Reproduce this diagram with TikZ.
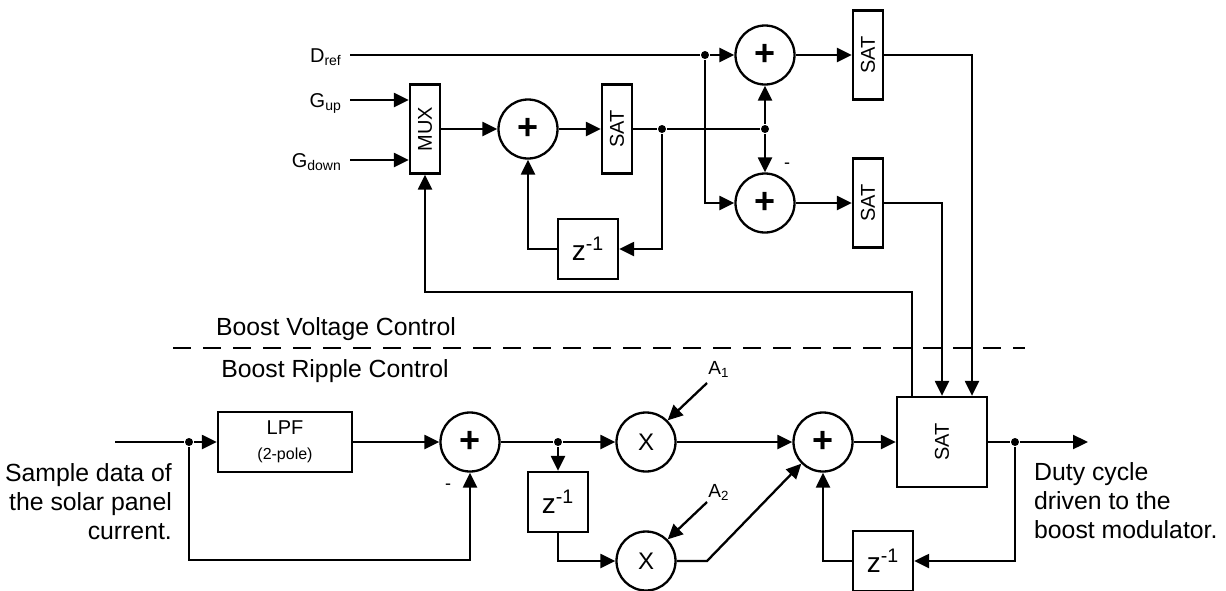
\documentclass[tikz,border=0pt]{standalone}
\usepackage{fontspec}
\usepackage{graphicx}
\setmainfont{Liberation Sans}
\usetikzlibrary{arrows.meta,calc}
\begin{document}
\begin{tikzpicture}[x=0.5pt,y=-0.5pt,
  line width=1.15pt,
  arr/.style={-{Triangle[length=7.5pt,width=7pt]}},
  sumnode/.style={circle,draw,minimum size=29.5pt,inner sep=0pt,font=\fontsize{18}{18}\selectfont\bfseries},
  mulnode/.style={circle,draw,minimum size=29.5pt,inner sep=0pt,font=\fontsize{12}{12}\selectfont},
  tallbox/.style={rectangle,draw,minimum width=15pt,minimum height=44.5pt,inner sep=0pt,font=\fontsize{10}{10}\selectfont},
  bigbox/.style={rectangle,draw,minimum width=45pt,minimum height=45pt,inner sep=0pt,font=\fontsize{10}{10}\selectfont},
  delaybox/.style={rectangle,draw,minimum width=30pt,minimum height=30pt,inner sep=0pt,font=\fontsize{14}{14}\selectfont},
  lpfbox/.style={rectangle,draw,minimum width=67pt,minimum height=30pt,inner sep=0pt,align=center,font=\fontsize{10}{12.5}\selectfont},
  dot/.style={circle,fill,inner sep=0pt,minimum size=4pt},
  inlbl/.style={font=\fontsize{10}{10}\selectfont,inner sep=0pt},
  alabel/.style={font=\fontsize{9.5}{9.5}\selectfont,inner sep=0pt},
  minus/.style={font=\fontsize{9}{9}\selectfont,inner sep=0pt},
  bigtext/.style={font=\fontsize{12.4}{14.5}\selectfont,inner sep=0pt}
]
\useasboundingbox (0,0) rectangle (1226,590);

% ---------- top part ----------
\node[inlbl,anchor=base east] (dreflbl) at (343,62) {D\textsubscript{ref}};
\node[inlbl,anchor=base east] (guplbl) at (343,107) {G\textsubscript{up}};
\node[inlbl,anchor=base east] (gdownlbl) at (343,167) {G\textsubscript{down}};
\coordinate (drefin) at (350,55);
\coordinate (gupin) at (350,100);
\coordinate (gdownin) at (350,160);

\node[tallbox] (mux) at (425,129) {\rotatebox{90}{MUX}};
\node[sumnode] (sum1) at (528,129) {+};
\node[tallbox] (sat1) at (617,129) {\rotatebox{90}{SAT}};
\node[dot] (jA) at (662,129) {};
\node[delaybox] (z1) at (588,249) {z\textsuperscript{-1}};

\node[dot] (jD) at (705,55) {};
\node[sumnode] (sum2) at (765,55) {+};
\node[dot] (jC) at (765,129) {};
\node[sumnode] (sum3) at (765,203) {+};
\node[minus] (m1) at (787,166) {-};
\node[tallbox] (sat2) at (868,55) {\rotatebox{90}{SAT}};
\node[tallbox] (sat3) at (868,203) {\rotatebox{90}{SAT}};

% ---------- bottom part ----------
\coordinate (inI) at (115,442);
\node[dot] (j1) at (189,442) {};
\node[lpfbox] (lpf) at (285,442) {LPF\\{\fontsize{8}{12.5}\selectfont (2-pole)}};
\node[sumnode] (sum4) at (470,442) {+};
\node[minus] (m2) at (448,487) {-};
\node[dot] (j2) at (558,442) {};
\node[mulnode] (x1) at (646,442) {X};
\node[delaybox] (z2) at (558,502) {z\textsuperscript{-1}};
\node[mulnode] (x2) at (646,561) {X};
\node[alabel] (a1) at (719,369) {A\textsubscript{1}};
\node[alabel] (a2) at (719,492) {A\textsubscript{2}};
\coordinate (a1s) at (707,383);
\coordinate (a2s) at (707,502);
\coordinate (k2) at (707,561);
\node[sumnode] (sum5) at (823,442) {+};
\node[bigbox] (bigsat) at (942,442) {\rotatebox{90}{SAT}};
\node[dot] (j3) at (1015,442) {};
\coordinate (outD) at (1088,442);
\node[delaybox] (z3) at (883,561) {z\textsuperscript{-1}};

\coordinate (bsin2) at ([xshift=15pt]bigsat.north);
\coordinate (bsfb) at ([xshift=-15pt]bigsat.north);

% ---------- connectors top ----------
\draw[arr] (gupin) -- (gupin -| mux.west);
\draw[arr] (gdownin) -- (gdownin -| mux.west);
\draw[arr] (mux.east) -- (sum1.west);
\draw[arr] (sum1.east) -- (sat1.west);
\draw (sat1.east) -- (jA);
\draw[arr] (jA) |- (z1.east);
\draw[arr] (z1.west) -| (sum1.south);
\draw (drefin) -- (jD);
\draw[arr] (jD) -- (sum2.west);
\draw (jA) -- (jC);
\draw[arr] (jC) -- (sum2.south);
\draw[arr] (jC) -- (sum3.north);
\draw[arr] (jD) |- (sum3.west);
\draw[arr] (sum2.east) -- (sat2.west);
\draw[arr] (sum3.east) -- (sat3.west);
\draw[arr] (sat2.east) -| (bsin2);
\draw[arr] (sat3.east) -| (bigsat.north);
\draw[arr] (bsfb) -- ++(0,-104) -| (mux.south);

% ---------- connectors bottom ----------
\draw (inI) -- (j1);
\draw[arr] (j1) -- (lpf.west);
\draw[arr] (lpf.east) -- (sum4.west);
\draw[arr] (j1) -- ++(0,118) -| (sum4.south);
\draw (sum4.east) -- (j2);
\draw[arr] (j2) -- (x1.west);
\draw[arr] (j2) -- (z2.north);
\draw[arr] (z2.south) |- (x2.west);
\draw[arr] (a1s) -- (x1.north east);
\draw[arr] (a2s) -- (x2.north east);
\draw[arr] (x1.east) -- (sum5.west);
\draw[arr] (x2.east) -- (k2) -- (sum5.south west);
\draw[arr] (sum5.east) -- (bigsat.west);
\draw (bigsat.east) -- (j3);
\draw[arr] (j3) -- (outD);
\draw[arr] (j3) |- (z3.east);
\draw[arr] (z3.west) -| (sum5.south);

% ---------- separator and texts ----------
\draw[dash pattern=on 9pt off 6pt] (173,348) -- (1025,348);
\node[bigtext,anchor=base] (bvc) at (336,335) {Boost Voltage Control};
\node[bigtext,anchor=base] (brc) at (335,377) {Boost Ripple Control};
\node[bigtext,align=right,anchor=east] (intext) at (173,502) {Sample data of\\the solar panel\\current.};
\node[bigtext,align=left,anchor=west] (outtext) at (1033,501) {Duty cycle\\driven to the\\boost modulator.};
\end{tikzpicture}
\end{document}
